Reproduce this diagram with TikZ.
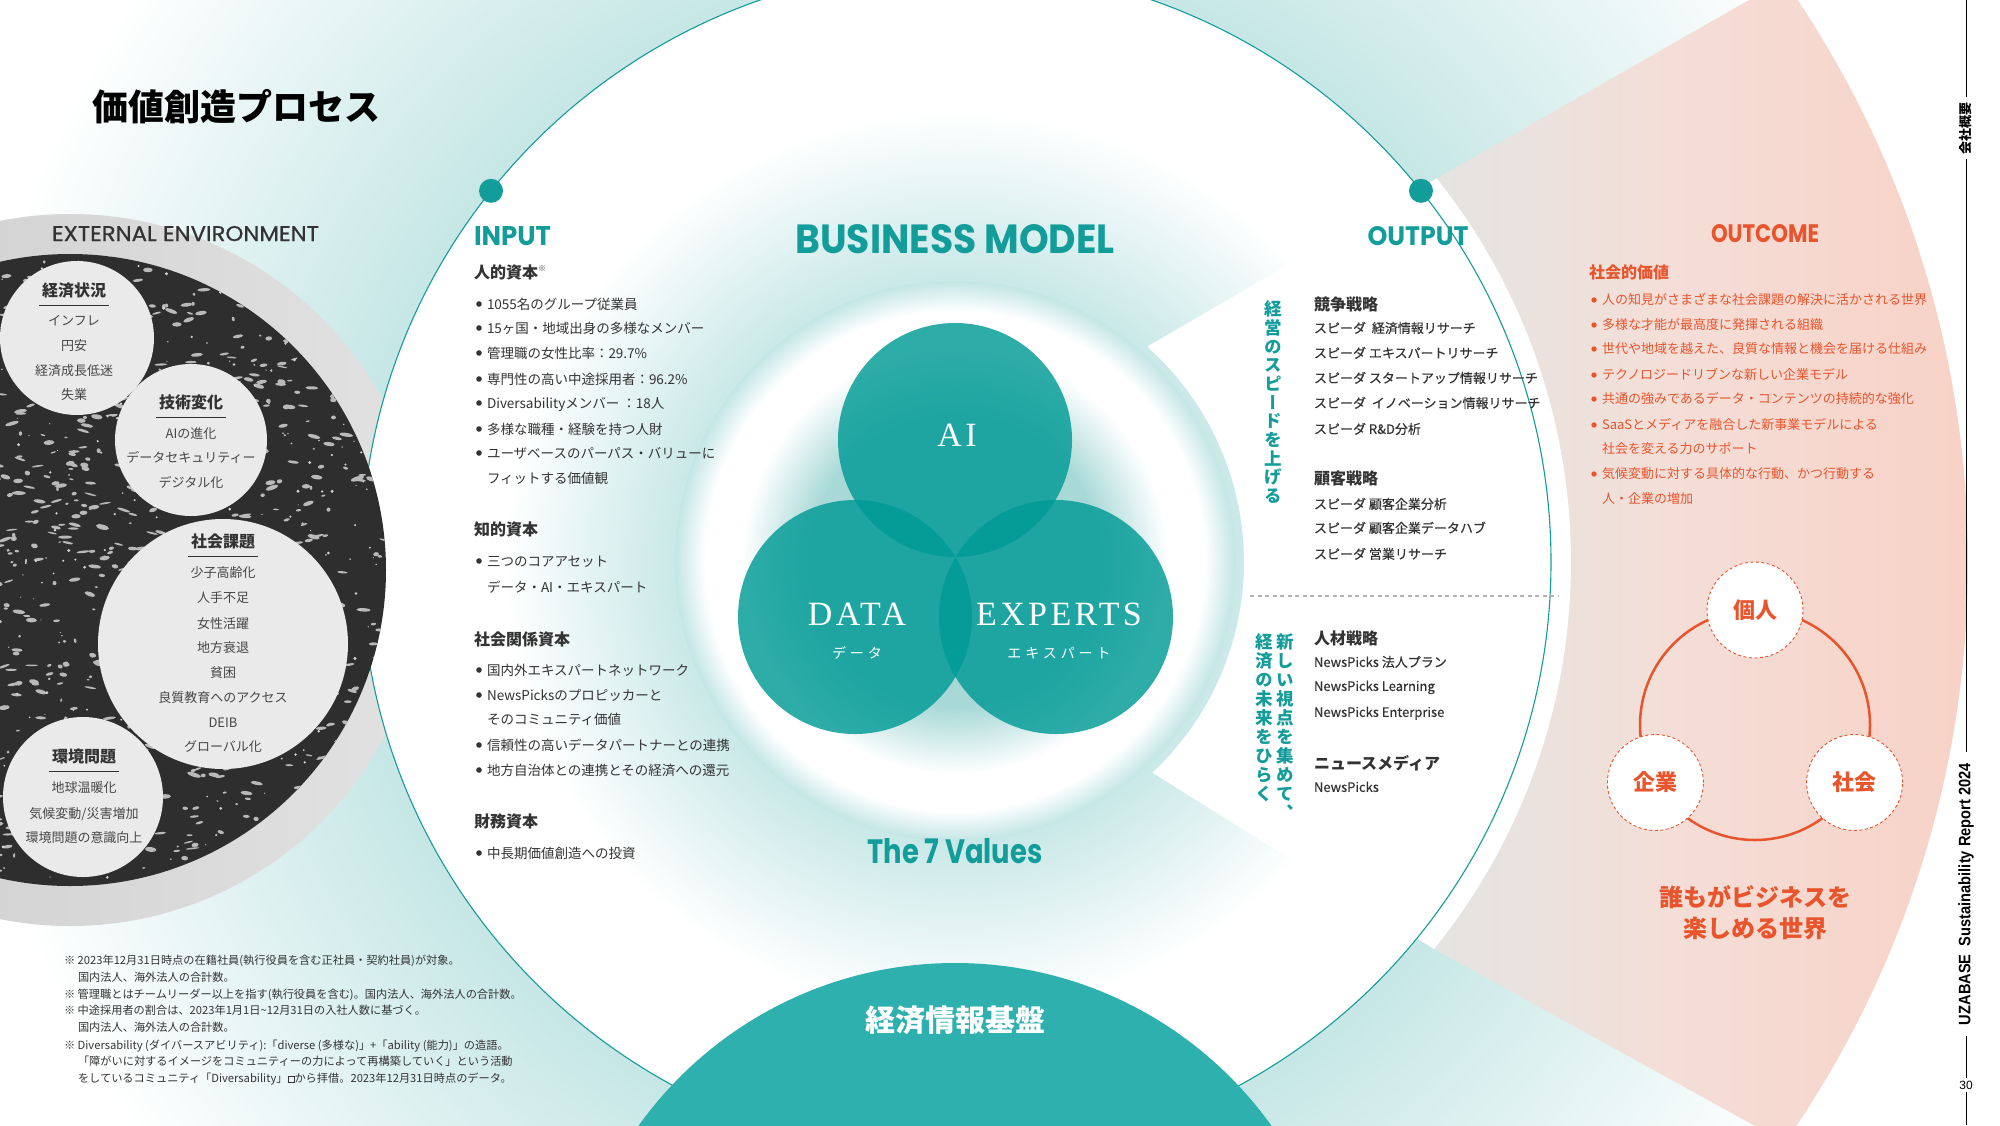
\documentclass[tikz,border=0pt]{standalone}
\usepackage{graphicx}
\usepackage{fontspec}
\usetikzlibrary{calc}
\setmainfont{Noto Sans CJK JP}
\newfontfamily\jp{Noto Sans CJK JP}
\newfontfamily\jpm{Noto Sans CJK JP}[FakeBold=0.4]
\newfontfamily\jpv{Noto Sans CJK JP}[RawFeature=+vert]
\newfontfamily\jpls{Noto Sans CJK JP}[LetterSpace=28]
\newfontfamily\pop{Poppins}
\newfontfamily\popm{Poppins}[FakeBold=0.7]
\newfontfamily\serls{Liberation Serif}[LetterSpace=10]
\newfontfamily\lib{Liberation Sans}

\definecolor{tealT}{HTML}{139D9A}
\definecolor{vennT}{HTML}{009A96}
\definecolor{domeT}{HTML}{2EB1AE}
\definecolor{orng}{HTML}{E8542C}
\definecolor{glowO}{HTML}{C6E7E6}
\definecolor{glowI}{HTML}{C3E6E5}
\definecolor{ringIn}{HTML}{A8D9D7}
\definecolor{darkE}{HTML}{2E2E2E}
\definecolor{grayL}{HTML}{CBCBCB}
\definecolor{grayR}{HTML}{E2E2E2}
\definecolor{lightE}{HTML}{EAEAEA}
\definecolor{txtD}{HTML}{333333}
\definecolor{fanA}{HTML}{E4E4E2}
\definecolor{fanB}{HTML}{F4DED7}
\definecolor{fanC}{HTML}{F9CFC3}

\pgfdeclareradialshading{outerglow}{\pgfpoint{0bp}{0bp}}{color(0bp)=(glowO); color(15bp)=(glowO); color(25bp)=(white); color(50bp)=(white)}
\pgfdeclareradialshading{innerglow}{\pgfpoint{0bp}{0bp}}{color(0bp)=(glowI); color(11bp)=(glowI); color(19bp)=(white); color(25bp)=(white); color(50bp)=(white)}
\pgfdeclareradialshading{ringglow}{\pgfpoint{0bp}{0bp}}{color(0bp)=(ringIn); color(13bp)=(ringIn); color(19bp)=(white); color(22.3bp)=(white); color(25bp)=(glowI); color(50bp)=(glowI)}
\pgfdeclarehorizontalshading{fanshade}{100bp}{color(0bp)=(fanA); color(25bp)=(fanA); color(45bp)=(fanB); color(75bp)=(fanC); color(100bp)=(fanC)}

\newcommand\extlink{{\setlength{\fboxsep}{0pt}\setlength{\fboxrule}{0.5pt}\fbox{\rule{0pt}{6pt}\rule{6pt}{0pt}}}}

\begin{document}
\begin{tikzpicture}[x=1pt,y=-1pt,
  jt/.style={inner sep=0pt,outer sep=0pt,anchor=base west},
  inbody/.style={jt,font=\jp\fontsize{13.5}{16}\selectfont,text=txtD},
  inhead/.style={jt,font=\jp\bfseries\fontsize{16}{19}\selectfont,text=txtD},
  outbody/.style={jt,font=\jpm\fontsize{13}{16}\selectfont,text=txtD},
  ocbody/.style={jt,font=\jp\fontsize{13}{16}\selectfont,text=orng},
  envbody/.style={inner sep=0pt,anchor=base,font=\jp\fontsize{13}{16}\selectfont,text=txtD!90!white},
  envhead/.style={inner sep=0pt,anchor=base,font=\jp\bfseries\fontsize{16}{19}\selectfont,text=txtD},
  fnote/.style={jt,font=\jp\fontsize{11.2}{13}\selectfont,text=txtD},
  vtext/.style={inner sep=0pt,anchor=base,font=\jpv\bfseries\fontsize{17.5}{17.5}\selectfont,text=tealT},
  onode/.style={circle,fill=white,draw=orng,dash pattern=on 3pt off 2.5pt,line width=0.9pt,minimum size=96pt,inner sep=0pt,text=orng,font=\jp\bfseries\fontsize{22}{22}\selectfont},
  bigT/.style={inner sep=0pt,anchor=base}
]
\useasboundingbox (0,0) rectangle (2000,1125);
\clip (0,0) rectangle (2000,1125);
\fill[white] (0,0) rectangle (2000,1125);

\coordinate (C) at (956,562);
\shade[shading=outerglow] (C) circle[radius=1000];

% outcome fan
\shade[shading=fanshade] ($(C)+(-38.6:615)$) arc[start angle=-38.6,end angle=39,radius=615] -- ($(C)+(35:1012)$) arc[start angle=35,end angle=-35.1,radius=1012] -- cycle;

% external environment halo
\coordinate (E) at (70,570);
\shade[left color=grayL,right color=grayR] (E) circle[radius=356];

% big circle
\shade[shading=innerglow] (C) circle[radius=595];

% output panel
\fill[white] ($(C)+(-48.4:288)$) -- ($(C)+(-38.6:615)$) arc[start angle=-38.6,end angle=39,radius=615] -- ($(C)+(47:288)$) arc[start angle=47,end angle=-48.4,radius=288] -- cycle;

\draw[tealT,line width=1.1pt] (C) circle[radius=595];
\fill[tealT] ($(C)+(-141.4:595)$) circle[radius=12];
\fill[tealT] ($(C)+(-38.6:595)$) circle[radius=12];

% dark textured circle
\fill[darkE] (E) circle[radius=316];
\begin{scope}
  \clip (E) circle[radius=316];
  \pgfmathsetseed{11}
  \foreach \i in {1,...,1400}{\fill[gray!55,rotate around={{-20+40*rnd}:({-250+640*rnd},{250+640*rnd})}] ({-250+640*rnd},{250+640*rnd}) ellipse[x radius={1+6*rnd},y radius={0.7+1.8*rnd}];}
  \foreach \i in {1,...,500}{\fill[gray!35] ({-250+640*rnd},{250+640*rnd}) circle[radius={0.5+1.2*rnd}];}
\end{scope}
\fill[lightE] (77,338) circle[radius=77];
\fill[lightE] (191,440) circle[radius=76];
\fill[lightE] (223,644) circle[radius=125];
\fill[lightE] (83,797) circle[radius=80];

% dome
\fill[domeT] (955,1352) circle[radius=389];

% venn
\coordinate (V) at (955,561);
\shade[shading=ringglow] (V) circle[radius=280];
\fill[vennT,fill opacity=0.82] (955,440) circle[radius=117];
\fill[vennT,fill opacity=0.82] (855,617) circle[radius=117];
\fill[vennT,fill opacity=0.82] (1056,617) circle[radius=117];

\node[bigT,text=white,font=\serls\fontsize{34}{34}\selectfont] (ai) at (957,446) {AI};
\node[bigT,text=white,font=\serls\fontsize{34}{34}\selectfont] (data) at (857,625) {DATA};
\node[bigT,text=white,font=\serls\fontsize{34}{34}\selectfont] (experts) at (1059,625) {EXPERTS};
\node[bigT,text=white,font=\jpls\fontsize{14}{14}\selectfont] (dataj) at (857,658) {データ};
\node[bigT,text=white,font=\jpls\fontsize{14}{14}\selectfont] (expj) at (1059,658) {エキスパート};

% headings
\node[jt,font=\jp\bfseries\fontsize{36}{40}\selectfont,text=black] (title) at (92,120) {価値創造プロセス};
\node[jt,text=txtD] (ext) at (52,241) {\resizebox{267pt}{15pt}{\popm EXTERNAL ENVIRONMENT}};
\node[bigT,text=tealT] (bm) at (955,253) {\resizebox{319pt}{29pt}{\pop\bfseries BUSINESS MODEL}};
\node[jt,text=tealT] (input) at (474,245) {\resizebox{77pt}{19pt}{\pop\bfseries INPUT}};
\node[bigT,text=tealT] (output) at (1418,245) {\resizebox{101pt}{19pt}{\pop\bfseries OUTPUT}};
\node[bigT,text=orng] (outcome) at (1765,242) {\resizebox{108pt}{18pt}{\pop\bfseries OUTCOME}};
\node[bigT,text=tealT] (seven) at (955,863) {\resizebox{175pt}{25pt}{\pop\bfseries The 7 Values}};
\node[bigT,text=white,font=\jp\bfseries\fontsize{30}{30}\selectfont] (kiban) at (955,1031) {経済情報基盤};

% env texts
\foreach \xx/\yy/\ttx [count=\k] in {74/290/経済状況, 191/402/技術変化, 223/541/社会課題, 84/756/環境問題}{
  \node[envhead] (eh\k) at (\xx,\yy+6.1) {\ttx};
  \draw[txtD,line width=0.8pt] ([xshift=-3pt,yshift=-9pt]eh\k.base west) -- ([xshift=3pt,yshift=-9pt]eh\k.base east);
}
\foreach \xx/\yy/\ttx [count=\k] in {74/321/インフレ, 74/346/円安, 74/371/経済成長低迷, 74/395/失業,
  191/434/AIの進化, 191/458/データセキュリティー, 191/483/デジタル化,
  223/573/少子高齢化, 223/598/人手不足, 223/624/女性活躍, 223/648/地方衰退, 223/673/貧困, 223/698/良質教育へのアクセス, 223/723/DEIB, 223/747/グローバル化,
  84/788/地球温暖化, 84/814/{気候変動/災害増加}, 84/838/環境問題の意識向上}{
  \node[envbody] (env\k) at (\xx,\yy+4.9) {\ttx};
}

% input column
\foreach \yy/\ttx [count=\k] in {272/{人的資本\raisebox{7pt}{\fontsize{8}{8}\selectfont ※}}, 529/{知的資本}, 639/{社会関係資本}, 821/{財務資本}}{
  \node[inhead] (ih\k) at (474,\yy+6.1) {\ttx};
}
\foreach \yy/\ttx [count=\k] in {304/{1055名のグループ従業員}, 328/{15ヶ国・地域出身の多様なメンバー}, 353/{管理職の女性比率：29.7\%}, 379/{専門性の高い中途採用者：96.2\%}, 403/{Diversabilityメンバー\ ：18人}, 429/{多様な職種・経験を持つ人財}, 453/{ユーザベースのパーパス・バリューに}, 478/{フィットする価値観}, 561/{三つのコアアセット}, 587/{データ・AI・エキスパート}, 670/{国内外エキスパートネットワーク}, 695/{NewsPicksのプロピッカーと}, 719/{そのコミュニティ価値}, 745/{信頼性の高いデータパートナーとの連携}, 770/{地方自治体との連携とその経済への還元}, 853/{中長期価値創造への投資}}{
  \node[inbody] (ib\k) at (487,\yy+5.1) {\ttx};
}
\foreach \yy in {304,328,353,379,403,429,453,561,670,695,745,770,853}{
  \fill[txtD] (479,\yy) circle[radius=2.8pt];
}

% output column
\foreach \yy/\ttx [count=\k] in {304/{競争戦略}, 478/{顧客戦略}, 638/{人材戦略}, 763/{ニュースメディア}}{
  \node[inhead] (oh\k) at (1314,\yy+6.1) {\ttx};
}
\foreach \yy/\ttx [count=\k] in {328/{スピーダ\ \ 経済情報リサーチ}, 353/{スピーダ エキスパートリサーチ}, 378/{スピーダ スタートアップ情報リサーチ}, 403/{スピーダ\ \ イノベーション情報リサーチ}, 429/{スピーダ R\&D分析}, 504/{スピーダ 顧客企業分析}, 528/{スピーダ 顧客企業データハブ}, 554/{スピーダ 営業リサーチ}, 662/{NewsPicks 法人プラン}, 686/{NewsPicks Learning}, 712/{NewsPicks Enterprise}, 787/{NewsPicks}}{
  \node[outbody] (ob\k) at (1314,\yy+4.9) {\ttx};
}
\draw[gray!60,line width=1.3pt,dash pattern=on 4pt off 3.5pt] (1250,596) -- (1559,596);

\foreach \c [count=\k] in {経,営,の,ス,ピ,ー,ド,を,上,げ,る}{
  \node[vtext] (va\k) at (1273,{309+18.7*(\k-1)+6.6}) {\c};
}
\foreach \c [count=\k] in {新,し,い,視,点,を,集,め,て,、}{
  \node[vtext] (vb\k) at (1285,{642+19*(\k-1)+6.6}) {\c};
}
\foreach \c [count=\k] in {経,済,の,未,来,を,ひ,ら,く}{
  \node[vtext] (vc\k) at (1264,{642+19*(\k-1)+6.6}) {\c};
}

% outcome column
\node[inhead,text=orng] (soc) at (1589,278) {社会的価値};
\foreach \yy/\ttx [count=\k] in {300/{人の知見がさまざまな社会課題の解決に活かされる世界}, 325/{多様な才能が最高度に発揮される組織}, 349/{世代や地域を越えた、良質な情報と機会を届ける仕組み}, 375/{テクノロジードリブンな新しい企業モデル}, 399/{共通の強みであるデータ・コンテンツの持続的な強化}, 425/{SaaSとメディアを融合した新事業モデルによる}, 449/{社会を変える力のサポート}, 474/{気候変動に対する具体的な行動、かつ行動する}, 499/{人・企業の増加}}{
  \node[ocbody] (oc\k) at (1602,\yy+4.9) {\ttx};
}
\foreach \yy in {300,325,349,375,399,425,474}{
  \fill[orng] (1594,\yy) circle[radius=2.7pt];
}

\coordinate (OC) at (1755,725);
\draw[orng,line width=2.5pt] (OC) circle[radius=115];
\node[onode] (kojin) at ($(OC)+(-90:115)$) {個人};
\node[onode] (kigyo) at ($(OC)+(150:115)$) {企業};
\node[onode] (shakai) at ($(OC)+(30:115)$) {社会};
\node[bigT,text=orng,font=\jp\bfseries\fontsize{24}{24}\selectfont] (w1) at (1755,906) {誰もがビジネスを};
\node[bigT,text=orng,font=\jp\bfseries\fontsize{24}{24}\selectfont] (w2) at (1755,937) {楽しめる世界};

% footnotes
\foreach \xx/\yy/\ttx [count=\k] in {64/960/{※ 2023年12月31日時点の在籍社員(執行役員を含む正社員・契約社員)が対象。}, 78/977/{国内法人、海外法人の合計数。}, 64/994/{※ 管理職とはチームリーダー以上を指す(執行役員を含む)。国内法人、海外法人の合計数。}, 64/1010/{※ 中途採用者の割合は、2023年1月1日\textasciitilde 12月31日の入社人数に基づく。}, 78/1027/{国内法人、海外法人の合計数。}, 64/1045/{※ Diversability (ダイバースアビリティ):「diverse (多様な)」+「ability (能力)」の造語。}, 78/1061/{「障がいに対するイメージをコミュニティーの力によって再構築していく」という活動}, 78/1078/{をしているコミュニティ「Diversability」\extlink から拝借。2023年12月31日時点のデータ。}}{
  \node[fnote] (fn\k) at (\xx,\yy+4.3) {\ttx};
}

% right edge
\draw[black,line width=1pt] (1966,0) -- (1966,1125);
\node[fill=white,rotate=90,inner xsep=5pt,inner ysep=3pt,font=\jp\bfseries\fontsize{13}{13}\selectfont] (kaisha) at (1966,128) {会社概要};
\node[fill=white,rotate=90,minimum height=29pt,minimum width=284pt,inner sep=0pt] (uza) at (1966,894) {\resizebox{262pt}{12pt}{\lib\bfseries UZABASE\ \ Sustainability Report 2024}};
\node[fill=white,inner sep=3pt,font=\lib\fontsize{12}{12}\selectfont] (pg) at (1966,1085) {30};
\end{tikzpicture}
\end{document}
